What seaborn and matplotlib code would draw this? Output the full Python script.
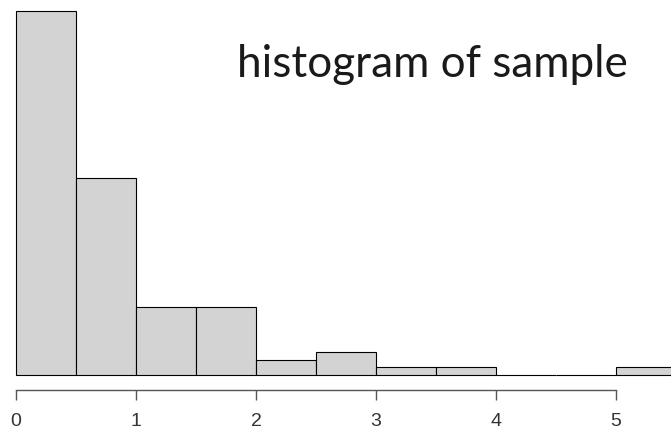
import numpy as np
import pandas as pd
import matplotlib
matplotlib.use("Agg")
import matplotlib.pyplot as plt
import seaborn as sns

bin_edges = [0.0, 0.5, 1.0, 1.5, 2.0, 2.5, 3.0, 3.5, 4.0, 4.5, 5.0, 5.5]
counts = [48, 26, 9, 9, 2, 3, 1, 1, 0, 0, 1]
tick_values = [0, 1, 2, 3, 4, 5]
title = "histogram of sample"

centers = [(a + b) / 2 for a, b in zip(bin_edges[:-1], bin_edges[1:])]
df = pd.DataFrame({"value": centers, "count": counts})

sns.set_style("white")
W, H = 671, 435
fig = plt.figure(figsize=(W / 100, H / 100), dpi=100)
base_px = 376
ax = fig.add_axes([0, (H - base_px) / H, 1, base_px / H])

sns.histplot(data=df, x="value", weights="count", bins=bin_edges, ax=ax,
             color="#d3d3d3", edgecolor="black", linewidth=0.8, alpha=1)
for p in ax.patches:
    p.set_clip_on(False)

ax.set_xlim(-16 / 120, (W - 16) / 120)
ax.set_ylim(0, 48 * base_px / 364)
ax.set_ylabel("")
ax.set_xlabel("")
ax.set_yticks([])
for s in ["top", "right", "left"]:
    ax.spines[s].set_visible(False)
ax.spines["bottom"].set_position(("outward", 10.6))
ax.spines["bottom"].set_bounds(0, 5)
ax.spines["bottom"].set_color("#555555")
ax.spines["bottom"].set_linewidth(1.0)
ax.set_xticks(tick_values)
ax.tick_params(axis="x", length=7.5, width=1.0, color="#555555",
               pad=8.5, bottom=True, labelsize=14, labelcolor="#333333")
for lab in ax.get_xticklabels():
    lab.set_fontfamily(["Liberation Sans", "DejaVu Sans"])

fig.text(237 / W, 1 - 77 / H, title, fontsize=31.7, family="Lato",
         fontweight="normal", color="#1a1a1a", ha="left", va="baseline")

fig.savefig("out.png", dpi=100)
